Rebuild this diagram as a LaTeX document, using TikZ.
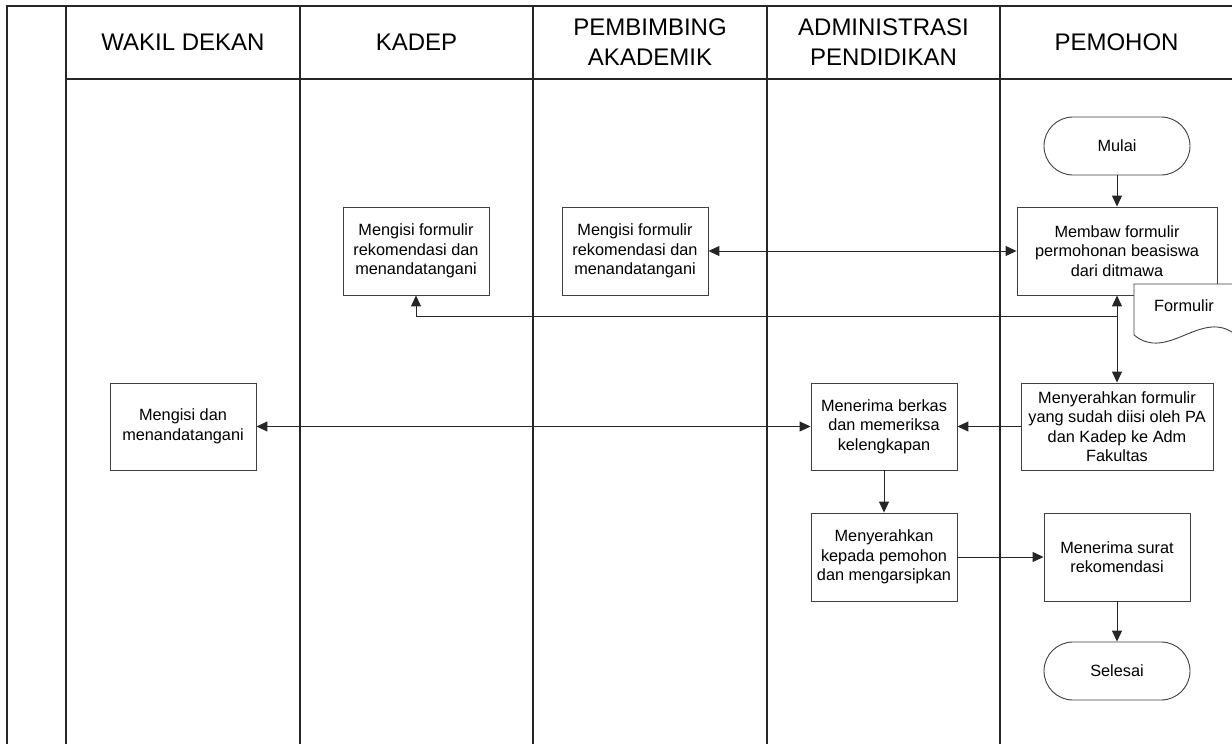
\documentclass[tikz,border=0pt]{standalone}
\usepackage{fontspec}
\setmainfont{Liberation Sans}
\usetikzlibrary{arrows.meta}
\begin{document}
\begin{tikzpicture}[x=1pt,y=-1pt,
  lane/.style={line width=1.1pt,draw=black!85},
  proc/.style={draw=black!75,line width=0.9pt,fill=white,rectangle,inner sep=0pt,align=center,
    font=\fontsize{16.3pt}{19.5pt}\selectfont},
  term/.style={proc,rounded corners=29pt,minimum width=146pt,minimum height=58pt},
  hdr/.style={align=center,font=\fontsize{24pt}{30pt}\selectfont},
  conn/.style={draw=black!85,line width=1pt},
  tip/.style={-{Triangle[length=11pt,width=10pt]}},
  tips/.style={{Triangle[length=11pt,width=10pt]}-{Triangle[length=11pt,width=10pt]}}]
\useasboundingbox (0,0) rectangle (1232,744);
\clip (0,0) rectangle (1232,744);
\fill[white] (0,0) rectangle (1232,744);
% frame and lanes
\draw[lane] (7,760) -- (7,6) -- (1250,6);
\draw[lane] (66,79) -- (1250,79);
\foreach \xx in {66,300,533,767,1000} \draw[lane] (\xx,6) -- (\xx,760);
% headers
\node[hdr] (h1) at (183,42.5) {WAKIL DEKAN};
\node[hdr] (h2) at (416.5,42.5) {KADEP};
\node[hdr] (h3) at (650,42.5) {PEMBIMBING\\AKADEMIK};
\node[hdr] (h4) at (883.5,42.5) {ADMINISTRASI\\PENDIDIKAN};
\node[hdr] (h5) at (1116.5,42.5) {PEMOHON};
% nodes
\node[term] (mulai) at (1117,146) {Mulai};
\node[proc,minimum width=200pt,minimum height=88pt] (membaw) at (1117,251) {Membaw formulir\\permohonan beasiswa\\dari ditmawa};
\node[proc,minimum width=146pt,minimum height=88pt] (kadep) at (416,251) {Mengisi formulir\\rekomendasi dan\\menandatangani};
\node[proc,minimum width=146pt,minimum height=88pt] (pa) at (635,251) {Mengisi formulir\\rekomendasi dan\\menandatangani};
\node[proc,minimum width=146pt,minimum height=87pt] (wakil) at (183,426.5) {Mengisi dan\\menandatangani};
\node[proc,minimum width=146pt,minimum height=87pt] (terima) at (884,426.5) {Menerima berkas\\dan memeriksa\\kelengkapan};
\node[proc,minimum width=192pt,minimum height=87pt] (menyf) at (1117,426.5) {Menyerahkan formulir\\yang sudah diisi oleh PA\\dan Kadep ke Adm\\Fakultas};
\node[proc,minimum width=146pt,minimum height=88pt] (kepada) at (884,557) {Menyerahkan\\kepada pemohon\\dan mengarsipkan};
\node[proc,minimum width=146pt,minimum height=88pt] (surat) at (1117,557) {Menerima surat\\rekomendasi};
\node[term] (selesai) at (1117,671) {Selesai};
% document shape
\draw[draw=black!75,line width=0.9pt,fill=white] (1134,284) -- (1236,284) -- (1236,335)
  .. controls (1202,307) and (1168,363) .. (1134,335) -- cycle;
\node[font=\fontsize{16.3pt}{19.5pt}\selectfont] (formulir) at (1184,306) {Formulir};
% connectors
\coordinate (j1) at (1117,316);
\draw[conn,tip] (mulai) -- (membaw);
\draw[conn,tips] (pa) -- (membaw);
\draw[conn,tips] (membaw) -- (menyf);
\draw[conn,tip] (j1) -| (kadep.south);
\draw[conn,tip] (menyf) -- (terima);
\draw[conn,tips] (wakil) -- (terima);
\draw[conn,tip] (terima) -- (kepada);
\draw[conn,tip] (kepada) -- (surat);
\draw[conn,tip] (surat) -- (selesai);
\end{tikzpicture}
\end{document}
